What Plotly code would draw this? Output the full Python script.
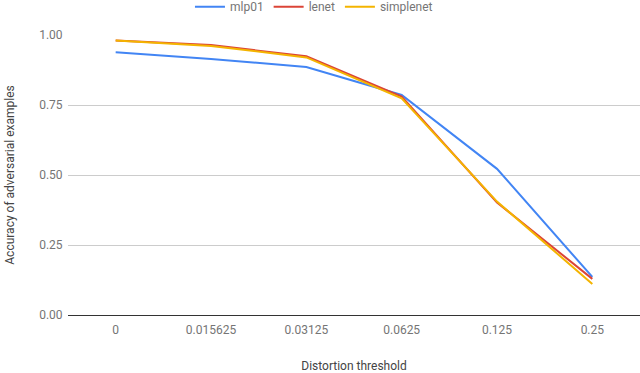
import plotly.graph_objects as go

categories = ["0", "0.015625", "0.03125", "0.0625", "0.125", "0.25"]
mlp01 = [0.938, 0.914, 0.886, 0.786, 0.522, 0.136]
lenet = [0.980, 0.964, 0.924, 0.780, 0.402, 0.129]
simplenet = [0.980, 0.961, 0.920, 0.774, 0.405, 0.111]
yticks = [0, 0.25, 0.5, 0.75, 1.0]
ytick_labels = ["0.00", "0.25", "0.50", "0.75", "1.00"]

series = [("mlp01", mlp01, "#4285F4"), ("lenet", lenet, "#DB4437"), ("simplenet", simplenet, "#F4B400")]

fig = go.Figure()
for name, vals, color in series:
    fig.add_trace(go.Scatter(x=categories, y=vals, mode="lines", name=name,
                             line=dict(color=color, width=2)))

fig.update_layout(
    width=640, height=373,
    margin=dict(l=68, r=0, t=0, b=58, autoexpand=False),
    paper_bgcolor="white", plot_bgcolor="white",
    font=dict(family="Roboto", size=12, color="#757575"),
    legend=dict(orientation="h", x=0.43, xanchor="center", y=1.025, yanchor="top",
                font=dict(size=12, color="#757575"), itemwidth=30),
    xaxis=dict(type="category", range=[-0.5, 5.5], showgrid=False, showline=True,
               linecolor="#333333", linewidth=1, automargin=True,
               ticks="outside", ticklen=4, tickcolor="rgba(0,0,0,0)",
               tickfont=dict(size=12, color="#757575"),
               title=dict(text="Distortion threshold", font=dict(size=12, color="#444444"), standoff=27)),
    yaxis=dict(range=[0, 1], domain=[0, 280 / 315], tickvals=yticks, ticktext=ytick_labels,
               showgrid=True, gridcolor="#CCCCCC", automargin=True,
               zeroline=True, zerolinecolor="#333333", zerolinewidth=1,
               tickfont=dict(size=12, color="#757575"),
               ticks="outside", ticklen=2, tickcolor="rgba(0,0,0,0)",
               title=dict(text="Accuracy of adversarial examples", font=dict(size=12, color="#444444"), standoff=21)),
)

fig.write_html("out.html", config={"displayModeBar": False},
               post_script="document.body.style.margin='0';")
